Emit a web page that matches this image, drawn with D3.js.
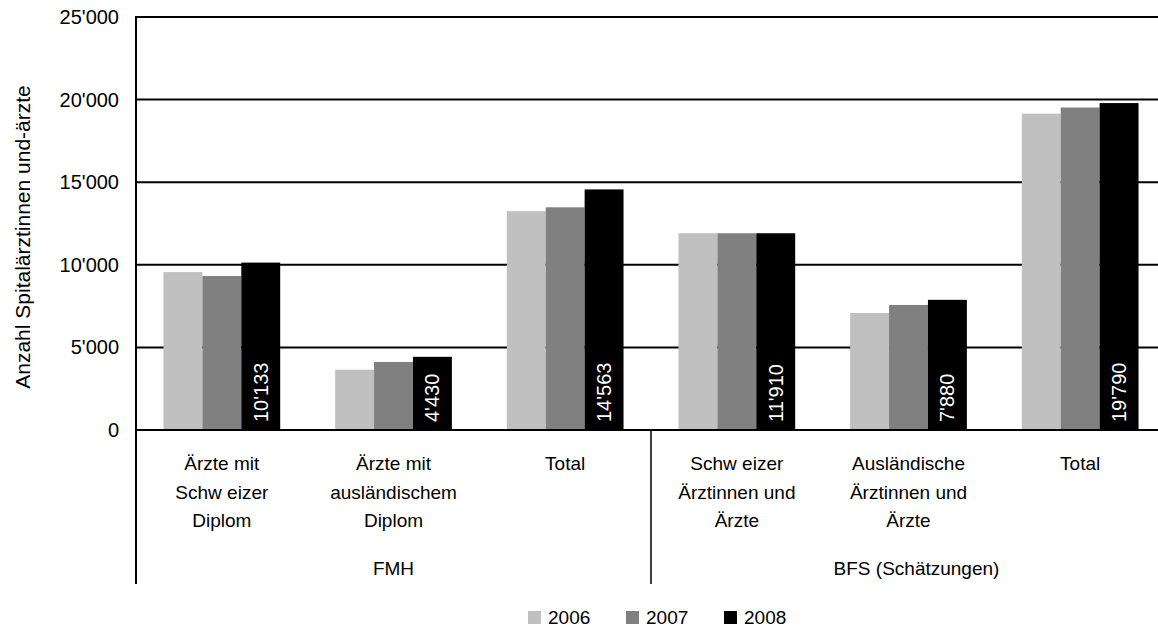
<!DOCTYPE html>
<html>
<head>
<meta charset="utf-8">
<script src="https://cdn.jsdelivr.net/npm/d3@7"></script>
<style>
  body { margin: 0; background: #fff; }
  svg { display: block; font-family: "Liberation Sans", Arial, sans-serif; }
</style>
</head>
<body>
<div id="chart"></div>
<script>
// categories (lines split with |), group headers, series
var categories = ["Ärzte mit|Schw eizer|Diplom", "Ärzte mit|ausländischem|Diplom", "Total",
                  "Schw eizer|Ärztinnen und|Ärzte", "Ausländische|Ärztinnen und|Ärzte", "Total"];
var groups = ["FMH", "BFS (Schätzungen)"];
var years = ["2006", "2007", "2008"];
var values2006 = [9560, 3650, 13250, 11910, 7080, 19150];
var values2007 = [9320, 4120, 13480, 11910, 7570, 19520];
var values2008 = [10133, 4430, 14563, 11910, 7880, 19790];
var yTicks = [0, 5000, 10000, 15000, 20000, 25000];

var series = [values2006, values2007, values2008];
var colors = ["#c0c0c0", "#808080", "#000000"];

var W = 1158, H = 627;
var plotLeft = 136, plotRight = 1166, plotTop = 17, plotBottom = 430;

var fmt = d3.formatLocale({decimal: ".", thousands: "'", grouping: [3], currency: ["", ""]}).format(",d");

var svg = d3.select("#chart").append("svg")
  .attr("width", W).attr("height", H);

var x = d3.scaleBand()
  .domain(d3.range(categories.length))
  .range([plotLeft, plotRight])
  .paddingInner(0.32)
  .paddingOuter(0.16);

var xs = d3.scaleBand()
  .domain(d3.range(years.length))
  .range([0, x.bandwidth()]);

var y = d3.scaleLinear().domain([0, 25000]).range([plotBottom, plotTop]);

// gridlines
svg.append("g").selectAll("line")
  .data(yTicks)
  .enter().append("line")
  .attr("x1", plotLeft).attr("x2", W)
  .attr("y1", function(d) { return y(d); })
  .attr("y2", function(d) { return y(d); })
  .attr("stroke", "#000")
  .attr("stroke-width", 2);

// y labels
svg.append("g").selectAll("text")
  .data(yTicks)
  .enter().append("text")
  .attr("x", 119)
  .attr("y", function(d) { return y(d); })
  .attr("dy", "0.35em")
  .attr("text-anchor", "end")
  .attr("font-size", 20)
  .text(function(d) { return fmt(d); });

svg.append("text")
  .attr("transform", "translate(30,237) rotate(-90)")
  .attr("text-anchor", "middle")
  .attr("font-size", 21)
  .text("Anzahl Spitalärztinnen und-ärzte");

// bars
var cat = svg.append("g").selectAll("g")
  .data(categories)
  .enter().append("g")
  .attr("transform", function(d, i) { return "translate(" + x(i) + ",0)"; });

cat.selectAll("rect")
  .data(function(d, i) { return series.map(function(s, k) { return {k: k, v: s[i]}; }); })
  .enter().append("rect")
  .attr("x", function(d) { return xs(d.k); })
  .attr("width", xs.bandwidth())
  .attr("y", function(d) { return y(d.v); })
  .attr("height", function(d) { return y(0) - y(d.v); })
  .attr("fill", function(d) { return colors[d.k]; });

// value labels on 2008 bars
cat.append("text")
  .attr("transform", function(d, i) {
    return "translate(" + (xs(2) + xs.bandwidth() / 2 + 7) + "," + (y(0) - 8) + ") rotate(-90)";
  })
  .attr("fill", "#fff")
  .attr("font-size", 20)
  .text(function(d, i) { return fmt(values2008[i]); });

// axes lines
svg.append("line").attr("x1", plotLeft).attr("x2", W).attr("y1", y(0)).attr("y2", y(0))
  .attr("stroke", "#000").attr("stroke-width", 2);
svg.append("line").attr("x1", plotLeft).attr("x2", plotLeft).attr("y1", plotTop - 1).attr("y2", 584)
  .attr("stroke", "#000").attr("stroke-width", 2);
var step = x.step();
var divX = x(3) - step * x.paddingInner() / 2;
svg.append("line").attr("x1", divX).attr("x2", divX).attr("y1", y(0)).attr("y2", 584)
  .attr("stroke", "#000").attr("stroke-width", 1.5);

// category labels
cat.each(function(d, i) {
  var lines = d.split("|");
  var t = d3.select(this).append("text")
    .attr("text-anchor", "middle")
    .attr("font-size", 19);
  lines.forEach(function(l, j) {
    t.append("tspan")
      .attr("x", x.bandwidth() / 2)
      .attr("y", 470 + j * 28.5)
      .text(l);
  });
});

// group labels
svg.append("g").selectAll("text")
  .data(groups)
  .enter().append("text")
  .attr("x", function(d, g) { return (x(g * 3) + x(g * 3 + 2) + x.bandwidth()) / 2 + (g ? 8 : 0); })
  .attr("y", 575)
  .attr("text-anchor", "middle")
  .attr("font-size", 19)
  .text(function(d) { return d; });

// legend
var leg = svg.append("g").selectAll("g")
  .data(years)
  .enter().append("g")
  .attr("transform", function(d, i) { return "translate(" + (528 + i * 98) + ",611)"; });
leg.append("rect").attr("width", 13).attr("height", 13)
  .attr("fill", function(d, i) { return colors[i]; });
leg.append("text").attr("x", 20).attr("y", 13)
  .attr("font-size", 19)
  .text(function(d) { return d; });
</script>
</body>
</html>
